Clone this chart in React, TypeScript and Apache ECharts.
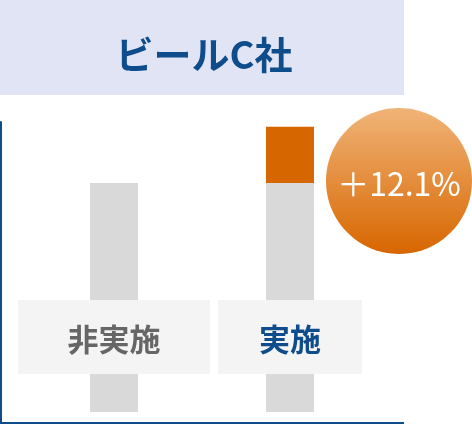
import { useEffect, useRef } from 'react';
import * as echarts from 'echarts';

// カテゴリと値（画像から読み取り、非実施を 100 とした相対値）
const categories = ['非実施', '実施'];
const baseValues = [100, 100];
const liftValues: (number | string)[] = ['-', 24.5];
const liftLabel = '＋12.1%';
const chartTitle = 'ビールC社';

const FONT = '"Noto Sans CJK JP", "Noto Sans", sans-serif';
const BLUE = '#0f4c8c';

export default function App() {
  const ref = useRef<HTMLDivElement>(null);

  useEffect(() => {
    if (!ref.current) return;
    const chart = echarts.init(ref.current, undefined, { renderer: 'svg' });

    chart.setOption({
      animation: false,
      title: {
        text: chartTitle,
        left: 199,
        top: 47,
        textAlign: 'center',
        textVerticalAlign: 'middle',
        textStyle: { fontSize: 38, fontWeight: 'bold', color: BLUE, fontFamily: FONT },
      },
      grid: { left: 26, right: 94, top: 122, bottom: 1, outerBoundsMode: 'none' },
      xAxis: {
        type: 'category',
        data: categories,
        z: 10,
        axisLine: { show: false },
        axisTick: { show: false },
        axisLabel: {
          margin: -123,
          interval: 0,
          formatter: (v: string) => (v === '実施' ? `{b|${v}}` : `{a|${v}}`),
          rich: {
            a: {
              width: 192, height: 74, lineHeight: 74, align: 'center',
              backgroundColor: '#f4f4f4', color: '#666666',
              fontSize: 31, fontWeight: 'bold', fontFamily: FONT,
            },
            b: {
              width: 144, height: 74, lineHeight: 74, align: 'center',
              backgroundColor: '#f4f4f4', color: BLUE,
              fontSize: 31, fontWeight: 'bold', fontFamily: FONT,
            },
          },
        },
      },
      yAxis: {
        type: 'value',
        min: -4.8,
        max: 126.6,
        offset: 25,
        axisLine: { show: true, lineStyle: { color: BLUE, width: 2 } },
        axisTick: { show: false },
        axisLabel: { show: false },
        splitLine: { show: false },
      },
      series: [
        {
          type: 'bar',
          stack: 'total',
          barWidth: 48,
          data: baseValues,
          itemStyle: { color: '#d9d9d9' },
          z: 1,
        },
        {
          type: 'bar',
          stack: 'total',
          barWidth: 48,
          data: liftValues,
          itemStyle: { color: '#d66600' },
          z: 1,
        },
      ],
      graphic: [
        {
          type: 'rect',
          z: -10,
          shape: { x: 0, y: 0, width: 404, height: 95 },
          style: { fill: '#e0e4f4' },
        },
        {
          type: 'line',
          z: 5,
          shape: { x1: 0, y1: 423, x2: 404, y2: 423 },
          style: { stroke: BLUE, lineWidth: 2 },
        },
        {
          type: 'circle',
          z: 10,
          shape: { cx: 399, cy: 181, r: 73 },
          style: {
            fill: new echarts.graphic.LinearGradient(0, 0, 0, 1, [
              { offset: 0, color: '#f0b478' },
              { offset: 1, color: '#d86600' },
            ]),
          },
        },
        {
          type: 'text',
          z: 11,
          x: 399,
          y: 182,
          style: {
            text: liftLabel,
            fill: '#ffffff',
            font: `32px ${FONT}`,
            align: 'center',
            verticalAlign: 'middle',
          },
        },
      ],
    });

    return () => chart.dispose();
  }, []);

  return <div ref={ref} style={{ position: 'fixed', left: 0, top: 0, width: 472, height: 424 }} />;
}
